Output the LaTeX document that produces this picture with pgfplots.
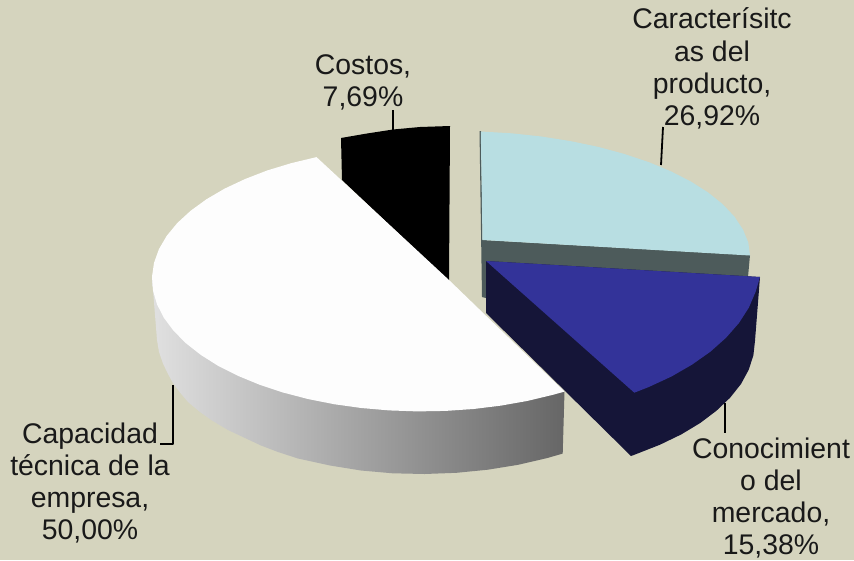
\documentclass[border=0pt]{standalone}
\usepackage{fontspec}
\setmainfont{Liberation Sans}
\usepackage{pgfplots}
\pgfplotsset{compat=1.18}
\definecolor{fondo}{RGB}{213,212,190}
\definecolor{celeste}{RGB}{184,222,226}
\definecolor{celesteosc}{RGB}{77,91,91}
\definecolor{azul}{RGB}{51,51,153}
\definecolor{azulosc}{RGB}{21,21,56}
\definecolor{blanco}{RGB}{253,253,253}
\begin{document}
\begin{tikzpicture}
\begin{axis}[
  x=1pt, y=1pt, xmin=0, xmax=854, ymin=0, ymax=560, y dir=reverse,
  hide axis, scale only axis, clip=true,
  every axis plot post/.append style={mark=none, line join=round},
]
% fondo
\addplot[fill=fondo, draw=none] coordinates {(0,0) (854,0) (854,560) (0,560)} -- cycle;

% Costos, 7,69 %
\addplot[fill=black, draw=none] coordinates {
  (341,138) (367,133.5) (393,129.5) (420,127) (450,126) (449,281) (342,180)} -- cycle;

% Características del producto, 26,92 %: lado y cara superior
\addplot[fill=celesteosc, draw=none] coordinates {
  (479.5,131) (481,131) (482.5,240) (750,255) (748,277) (486,262) (486,298) (482,297)} -- cycle;
\addplot[fill=celeste, draw=none] coordinates {
  (480.8,131.5) (511.4,133.3) (541.4,136.5) (570.5,141.1) (598.3,146.9) (624.5,154) (648.9,162.2)
  (671.1,171.4) (691,181.6) (708.3,192.6) (722.8,204.3) (734.4,216.6) (742.9,229.4) (748.3,242.5)
  (750,255.5) (482.5,240)} -- cycle;

% Conocimiento del mercado, 15,38 %: lado y cara superior
\addplot[fill=azulosc, draw=none] coordinates {
  (486,261) (760,277) (755,340.7) (753.4,355.3) (748.7,369.8) (741,384) (730.2,397.6) (716.5,410.7)
  (700.2,423) (681.3,434.4) (660,444.7) (634.3,454.8) (631,456) (486,313)} -- cycle;
\addplot[fill=azul, draw=none] coordinates {
  (486,261) (760,277) (755.6,291.9) (748.8,307.7) (738.9,323.1) (726,337.8) (710.4,351.7)
  (692.1,364.6) (671.5,376.5) (648.6,387.1) (634.3,392.7)} -- cycle;

% Capacidad técnica de la empresa, 50,00 %: lado con degradado y cara superior
\addplot[draw=none, left color=black!12, middle color=black!34, right color=black!60] coordinates {
  (152,277) (157,340) (159,352) (163,363.5) (168,374) (173,383) (180,392.5) (188,402) (200,412)
  (212,420.5) (228,430) (245,438) (261,445.5) (278,452) (298,458.5) (330,465.5) (361,470.5)
  (392.6,473.3) (424.6,474) (456.5,472.8) (487.8,469.7) (518.1,464.8) (547,458.1) (562.7,453.6)
  (564.5,391.5)} -- cycle;
\addplot[fill=blanco, draw=none] coordinates {
  (316.5,157.1) (291.1,163.2) (267.1,170.5) (244.9,179.1) (224.5,188.7) (206.4,199.3) (190.6,210.8)
  (177.3,223) (166.7,235.9) (158.9,249.2) (154,262.9) (152,276.7) (153,290.5) (157,304.3)
  (163.8,317.7) (173.5,330.7) (185.9,343.2) (200.8,354.9) (218.2,365.9) (237.9,375.8) (259.5,384.7)
  (283,392.5) (307.9,399) (334.1,404.2) (361.3,408) (389.1,410.4) (417.3,411.4) (445.5,410.9)
  (473.5,409) (501,405.6) (527.5,400.9) (552.9,394.8) (564.5,391.6) (449,280)} -- cycle;

% líneas guía
\addplot[black, line width=1.8pt] coordinates {(393,110) (393,130)};
\addplot[black, line width=1.8pt] coordinates {(663,127) (661,165)};
\addplot[black, line width=1.8pt] coordinates {(725,403) (725,433)};
\addplot[black, line width=1.8pt, line join=miter] coordinates {(173,385) (173,444) (160,444)};

% etiquetas
\tikzset{etq/.style={align=center, inner sep=0pt, text=black!90,
  font=\fontsize{28.4}{32.2}\selectfont}}
\node[etq] at (axis cs:363,82.5) {Costos,\\7,69\%};
\node[etq] at (axis cs:712,68.5) {Caracterísitc\\as del\\producto,\\26,92\%};
\node[etq] at (axis cs:771,498) {Conocimient\\o del\\mercado,\\15,38\%};
\node[etq] at (axis cs:90,483) {Capacidad\\técnica de la\\empresa,\\50,00\%};
\end{axis}
\end{tikzpicture}
\end{document}
